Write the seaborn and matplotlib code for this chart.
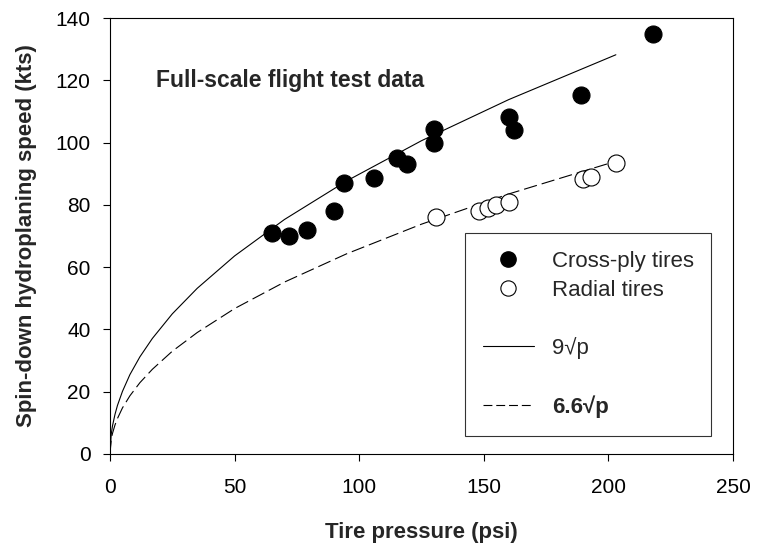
import numpy as np
import pandas as pd
import matplotlib
matplotlib.use("Agg")
import matplotlib.pyplot as plt
from matplotlib.lines import Line2D
import seaborn as sns

# ── Data ─────────────────────────────────────────────────────────────────────
crossply_psi = [65, 72, 79, 90, 94, 106, 115, 119, 130, 130, 160, 162, 189, 218]
crossply_kts = [71, 70, 72, 78, 87, 88.7, 95, 93, 104.5, 100, 108.3, 104, 115.3, 135]

radial_psi = [131, 148, 151.5, 155, 160, 190, 193, 203]
radial_kts = [76.2, 78, 79, 80, 81, 88.2, 89, 93.3]

curve_psi = [0, 0.5, 1, 2, 3, 5, 8, 12, 17, 25, 35, 50, 70, 95, 125, 160, 203]
curve_9 = [0, 6.4, 9, 12.7, 15.6, 20.1, 25.5, 31.2, 37.1, 45, 53.2, 63.6,
           75.3, 87.7, 100.6, 113.8, 128.2]
curve_66 = [0, 4.7, 6.6, 9.3, 11.4, 14.8, 18.7, 22.9, 27.2, 33, 39, 46.7,
            55.2, 64.3, 73.8, 83.5, 94.0]

x_ticks = [0, 50, 100, 150, 200, 250]
y_ticks = [0, 20, 40, 60, 80, 100, 120, 140]

cross_df = pd.DataFrame({"psi": crossply_psi, "kts": crossply_kts})
radial_df = pd.DataFrame({"psi": radial_psi, "kts": radial_kts})
curve_df = pd.DataFrame({"psi": curve_psi, "v9": curve_9, "v66": curve_66})

sns.set_style("ticks")
plt.rcParams["font.family"] = ["Liberation Sans", "DejaVu Sans"]

fig = plt.figure(figsize=(7.58, 5.46), dpi=100)
ax = fig.add_axes([0.1451, 0.1685, 0.8219, 0.7985])

# ── Curves ───────────────────────────────────────────────────────────────────
sns.lineplot(data=curve_df, x="psi", y="v9", ax=ax, color="black", lw=0.8,
             estimator=None, sort=False)
sns.lineplot(data=curve_df, x="psi", y="v66", ax=ax, color="black", lw=0.8,
             estimator=None, sort=False)
ax.lines[-1].set_linestyle((0, (12, 4.5)))

# ── Points ───────────────────────────────────────────────────────────────────
sns.scatterplot(data=cross_df, x="psi", y="kts", ax=ax, color="black",
                s=150, edgecolor="black", linewidth=0.8, zorder=3)
sns.scatterplot(data=radial_df, x="psi", y="kts", ax=ax, facecolor="white",
                s=150, edgecolor="black", linewidth=0.8, zorder=3)

ax.set_xlim(0, 250)
ax.set_ylim(0, 140)
ax.set_xticks(x_ticks)
ax.set_yticks(y_ticks)
ax.tick_params(axis="both", labelsize=15, length=5, width=0.8, colors="black")
ax.tick_params(axis="y", pad=9)
ax.tick_params(axis="x", pad=12)
for s in ax.spines.values():
    s.set_linewidth(0.8)
    s.set_color("black")

ax.set_xlabel("Tire pressure (psi)", fontsize=16, fontweight="bold", labelpad=18)
ax.set_ylabel("Spin-down hydroplaning speed (kts)", fontsize=16,
              fontweight="bold", labelpad=13)

ax.text(18.5, 120, "Full-scale flight test data", fontsize=16.5,
        fontweight="bold", va="center", ha="left")

# ── Legend (blank rows give the gaps) ────────────────────────────────────────
blank = Line2D([], [], color="none")
handles = [
    Line2D([], [], ls="none", marker="o", ms=11, mfc="black", mec="black"),
    Line2D([], [], ls="none", marker="o", ms=11, mfc="white", mec="black",
           mew=0.8),
    blank,
    Line2D([], [], color="black", lw=0.8),
    blank,
    Line2D([], [], color="black", lw=0.8, ls=(0, (8, 3.5))),
]
labels = ["Cross-ply tires", "Radial tires", " ", "9\u221ap", " ", "6.6\u221ap"]
leg = ax.legend(handles, labels, loc="upper left",
                bbox_to_anchor=(0.5698, 0.5069), fontsize=16, frameon=True,
                fancybox=False, edgecolor="black", handlelength=2.3,
                handletextpad=0.8, labelspacing=0.35, borderpad=0.8,
                borderaxespad=0)
leg.get_frame().set_linewidth(0.8)
leg.get_texts()[-1].set_fontweight("bold")

fig.savefig("out.png", dpi=100)
